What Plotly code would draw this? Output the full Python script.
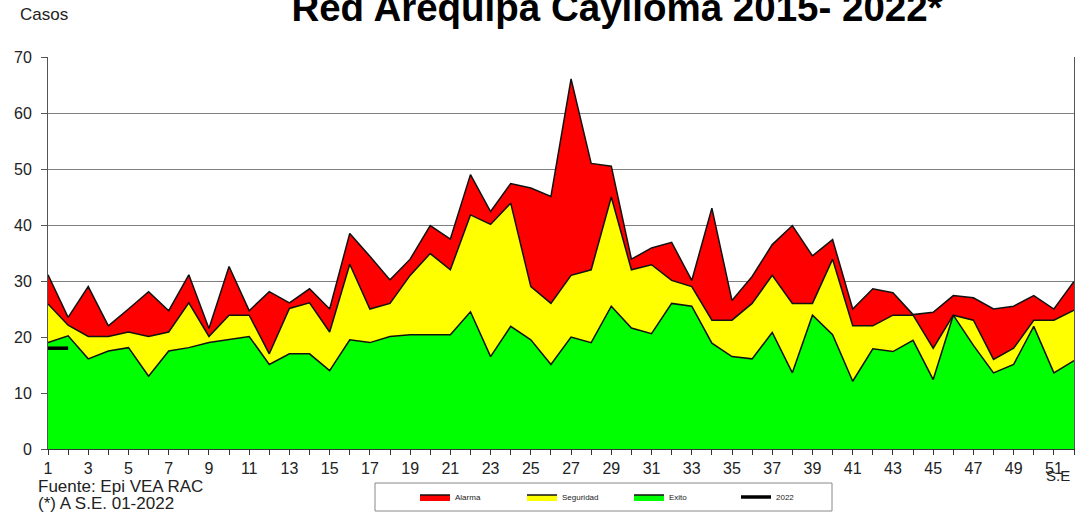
import plotly.graph_objects as go

semanas = list(range(1, 53))
exito = [19.0, 20.2, 16.1, 17.5, 18.1, 13.0, 17.5, 18.1, 19.0, 19.6,
         20.1, 15.1, 17.0, 17.0, 14.0, 19.5, 19.0, 20.1, 20.4, 20.4,
         20.4, 24.5, 16.5, 21.9, 19.5, 15.1, 20.0, 19.0, 25.5, 21.6,
         20.6, 26.0, 25.5, 18.9, 16.5, 16.1, 20.8, 13.6, 23.9, 20.4,
         12.1, 17.9, 17.4, 19.4, 12.4, 23.9, 18.5, 13.6, 15.1, 21.9, 13.6, 15.8]
seguridad = [25.9, 22.1, 20.1, 20.1, 20.9, 20.1, 20.9, 26.1, 20.1, 23.9,
             23.9, 17.0, 25.1, 26.1, 20.9, 33.0, 25.0, 26.0, 31.0, 34.9,
             32.0, 41.8, 40.1, 43.9, 29.0, 26.0, 31.0, 32.0, 45.0, 32.0,
             32.9, 30.1, 29.0, 23.0, 23.0, 26.0, 31.0, 26.0, 26.0, 33.9,
             22.0, 22.0, 23.9, 23.9, 18.0, 23.9, 23.0, 16.0, 18.0, 23.0, 23.0, 24.8]
alarma = [31.1, 23.5, 29.0, 22.0, 25.0, 28.1, 24.7, 31.1, 21.5, 32.6,
          24.7, 28.1, 26.1, 28.6, 25.0, 38.5, 34.4, 30.2, 33.9, 39.9,
          37.5, 49.0, 42.4, 47.4, 46.6, 45.1, 66.1, 51.0, 50.5, 33.9,
          35.9, 36.9, 30.1, 43.0, 26.5, 30.8, 36.5, 39.9, 34.5, 37.4,
          25.0, 28.6, 27.9, 24.0, 24.4, 27.4, 27.0, 25.0, 25.5, 27.4, 25.0, 29.9]
semanas_2022 = [1, 2]
casos_2022 = [18, 18]

tick_text = [str(s) if s % 2 == 1 and s <= 51 else "" for s in semanas]

FONT = "Liberation Sans, Arial, sans-serif"
W, H = 1075, 514
L, R, T, B = 48, 1, 57, 65
PW, PH = W - L - R, H - T - B


def px(x):
    return (x - L) / PW


def py(y):
    return (H - B - y) / PH


fig = go.Figure()
fig.add_trace(go.Scatter(x=semanas, y=exito, name="Exito", mode="lines",
                         fill="tozeroy", fillcolor="#00FF00",
                         line=dict(color="#111111", width=1.5), legendrank=3))
fig.add_trace(go.Scatter(x=semanas, y=seguridad, name="Seguridad", mode="lines",
                         fill="tonexty", fillcolor="#FFFF00",
                         line=dict(color="#111111", width=1.5), legendrank=2))
fig.add_trace(go.Scatter(x=semanas, y=alarma, name="Alarma", mode="lines",
                         fill="tonexty", fillcolor="#FF0000",
                         line=dict(color="#111111", width=1.5), legendrank=1))
fig.add_trace(go.Scatter(x=semanas_2022, y=casos_2022, name="2022", mode="lines",
                         line=dict(color="#000000", width=3.5), legendrank=4))

fig.update_layout(
    width=W, height=H,
    margin=dict(l=L, r=R, t=T, b=B),
    paper_bgcolor="white", plot_bgcolor="white",
    font=dict(family=FONT, color="#222222"),
    title=dict(text="<b>Red Arequipa Caylloma 2015- 2022*</b>",
               font=dict(family=FONT, size=38.5, color="#000000"),
               x=617 / W, xanchor="center", xref="container",
               y=1 - 8 / H, yanchor="middle", yref="container"),
    showlegend=True,
    legend=dict(orientation="h", x=px(415), xanchor="left",
                y=py(497), yanchor="middle", traceorder="normal",
                font=dict(family=FONT, size=8, color="#222222"),
                entrywidth=62, entrywidthmode="pixels",
                bgcolor="rgba(0,0,0,0)", borderwidth=0),
    xaxis=dict(range=[1, 52], tickmode="array", tickvals=semanas, ticktext=tick_text,
               ticks="outside", ticklen=5, tickcolor="#333333",
               showline=True, linecolor="#333333", linewidth=1,
               showgrid=False, zeroline=False, automargin=False,
               tickfont=dict(family=FONT, size=16, color="#222222")),
    yaxis=dict(range=[0, 70], dtick=10, ticks="outside", ticklen=6, tickcolor="#555555",
               showline=True, linecolor="#555555", linewidth=1, mirror=True,
               showgrid=True, gridcolor="#808080", gridwidth=1, zeroline=False,
               automargin=False,
               tickfont=dict(family=FONT, size=16, color="#222222"),
               ticklabelstandoff=6),
)

fig.add_shape(type="rect", xref="paper", yref="paper",
              x0=px(375), x1=px(832), y0=py(511), y1=py(483),
              line=dict(color="#888888", width=1), fillcolor="rgba(0,0,0,0)")

fig.add_annotation(text="Casos", xref="paper", yref="paper", x=px(18), y=py(14),
                   xanchor="left", yanchor="middle", showarrow=False,
                   font=dict(family=FONT, size=17, color="#222222"))
fig.add_annotation(text="Fuente: Epi VEA RAC", xref="paper", yref="paper", x=px(36), y=py(486),
                   xanchor="left", yanchor="middle", showarrow=False,
                   font=dict(family=FONT, size=17, color="#222222"))
fig.add_annotation(text="(*) A S.E. 01-2022", xref="paper", yref="paper", x=px(36), y=py(503),
                   xanchor="left", yanchor="middle", showarrow=False,
                   font=dict(family=FONT, size=17, color="#222222"))
fig.add_annotation(text="S.E", xref="paper", yref="paper", x=px(1058), y=py(476),
                   xanchor="center", yanchor="middle", showarrow=False,
                   font=dict(family=FONT, size=15, color="#222222"))

fig.write_html("out.html", config={"displayModeBar": False},
               post_script="document.body.style.margin='0';document.body.style.overflow='hidden';")
